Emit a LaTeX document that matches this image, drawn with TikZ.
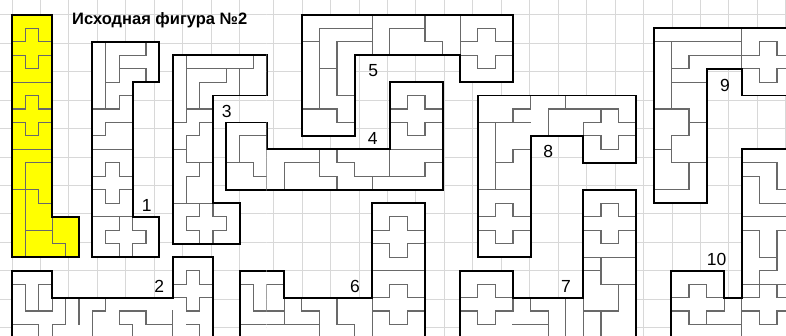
\documentclass[tikz,border=0pt]{standalone}
\usepackage{fontspec}
\setmainfont{Liberation Sans}
\definecolor{gridc}{RGB}{216,216,216}
\definecolor{piecec}{RGB}{105,105,105}
\definecolor{yel}{RGB}{255,255,0}
\newcommand\figfills{%
  \fill[yel] (0,0)--(3,0)--(3,15)--(5,15)--(5,18)--(0,18)--cycle;
  \fill[white] (6,2)--(11,2)--(11,5)--(9,5)--(9,15)--(11,15)--(11,18)--(6,18)--cycle;
  \fill[white] (0,26)--(0,19)--(3,19)--(3,21)--(12,21)--(12,18)--(15,18)--(15,26)--cycle;
  \fill[white] (12,3)--(19,3)--(19,6)--(15,6)--(15,14)--(17,14)--(17,17)--(12,17)--cycle;
  \fill[white] (16,8)--(19,8)--(19,10)--(26,10)--(26,5)--(29,5)--(29,13)--(16,13)--cycle;
  \fill[white] (21,0)--(33,0)--(33,5)--(30,5)--(30,3)--(24,3)--(24,9)--(21,9)--cycle;
  \fill[white] (17,26)--(17,19)--(20,19)--(20,21)--(25,21)--(25,14)--(28,14)--(28,26)--cycle;
  \fill[white] (30,26)--(30,19)--(33,19)--(33,21)--(37,21)--(37,13)--(40,13)--(40,26)--cycle;
  \fill[white] (31,6)--(40,6)--(40,11)--(37,11)--(37,9)--(34,9)--(34,18)--(31,18)--cycle;
  \fill[white] (49,1)--(41,1)--(41,14)--(44,14)--(44,4)--(46,4)--(46,6)--(49,6)--cycle;
  \fill[white] (42,26)--(42,19)--(45,19)--(45,21)--(46,21)--(46,10)--(50,10)--(50,26)--cycle;
}
\newcommand\figpieces{%
  % original (yellow)
  \draw[piece] (0,2)--(1,2)--(1,1)--(2,1)--(2,2)--(3,2);
  \draw[piece] (0,3)--(1,3)--(1,4)--(2,4)--(2,3)--(3,3);
  \draw[piece] (0,5)--(3,5);
  \draw[piece] (0,7)--(1,7)--(1,6)--(2,6)--(2,7)--(3,7);
  \draw[piece] (0,8)--(1,8)--(1,9)--(2,9)--(2,8)--(3,8);
  \draw[piece] (0,10)--(3,10);
  \draw[piece] (3,11)--(1,11)--(1,18);
  \draw[piece] (0,13)--(1,13)--(2,13)--(2,14)--(3,14);
  \draw[piece] (1,16)--(3,16);
  \draw[piece] (3,15)--(3,17)--(4,17)--(4,18);
  % figure 1
  \draw[piece] (7,2)--(7,7)--(6,7);
  \draw[piece] (10,2)--(10,3)--(8,3)--(8,5)--(7,5);
  \draw[piece] (8,4)--(10,4)--(10,5);
  \draw[piece] (9,6)--(8,6)--(8,7)--(7,7);
  \draw[piece] (9,8)--(7,8)--(7,9)--(6,9);
  \draw[piece] (6,10)--(9,10);
  \draw[piece] (6,12)--(7,12)--(7,11)--(8,11)--(8,12)--(9,12);
  \draw[piece] (6,13)--(7,13)--(7,14)--(8,14)--(8,13)--(9,13);
  \draw[piece] (6,15)--(9,15);
  \draw[piece] (8,15)--(8,16)--(7,16)--(7,17)--(8,17)--(8,18);
  \draw[piece] (9,15)--(9,16)--(10,16)--(10,17)--(9,17)--(9,18);
  % figure 2
  \draw[piece] (0,20)--(1,20)--(1,22)--(2,22)--(2,20)--(3,20);
  \draw[piece] (2,22)--(3,22)--(3,21);
  \draw[piece] (0,23)--(2,23)--(2,24);
  \draw[piece] (4,21)--(4,23)--(3,23)--(3,24);
  \draw[piece] (5,21)--(5,23);
  \draw[piece] (6,22)--(7,22)--(7,21);
  \draw[piece] (6,22)--(6,24);
  \draw[piece] (8,22)--(8,23)--(9,23)--(9,24);
  \draw[piece] (8,22)--(10,22)--(10,23)--(12,23);
  \draw[piece] (12,20)--(13,20)--(13,19)--(14,19)--(14,20)--(15,20);
  \draw[piece] (12,21)--(13,21)--(13,22)--(14,22)--(14,21)--(15,21);
  \draw[piece] (12,22)--(12,24);
  \draw[piece] (13,23)--(14,23)--(14,24);
  % figure 3
  \draw[piece] (13,3)--(13,8)--(12,8);
  \draw[piece] (13,4)--(18,4);
  \draw[piece] (18,3)--(18,4);
  \draw[piece] (17,4)--(17,6);
  \draw[piece] (16,4)--(16,5)--(14,5)--(14,7);
  \draw[piece] (13,7)--(15,7);
  \draw[piece] (15,8)--(14,8)--(14,9)--(13,9)--(13,10)--(12,10);
  \draw[piece] (13,10)--(13,11)--(15,11);
  \draw[piece] (14,11)--(14,12)--(13,12)--(13,14);
  \draw[piece] (12,14)--(15,14);
  \draw[piece] (14,14)--(14,15)--(13,15)--(13,16)--(14,16)--(14,17);
  \draw[piece] (15,14)--(15,15)--(16,15)--(16,16)--(15,16)--(15,17);
  % figure 4
  \draw[piece] (19,9)--(17,9)--(17,11)--(16,11);
  \draw[piece] (17,11)--(18,11)--(18,12)--(19,12);
  \draw[piece] (19,10)--(19,13);
  \draw[piece] (20,13)--(20,11)--(22,11);
  \draw[piece] (22,10)--(22,12)--(23,12)--(23,13);
  \draw[piece] (23,10)--(23,11)--(24,11)--(24,12)--(25,12)--(25,13);
  \draw[piece] (25,12)--(28,12)--(28,11)--(29,11);
  \draw[piece] (26,10)--(26,12);
  \draw[piece] (26,10)--(29,10);
  \draw[piece] (26,7)--(27,7)--(27,6)--(28,6)--(28,7)--(29,7);
  \draw[piece] (26,8)--(27,8)--(27,9)--(28,9)--(28,8)--(29,8);
  % figure 5
  \draw[piece] (22,1)--(25,1);
  \draw[piece] (25,0)--(25,3);
  \draw[piece] (22,1)--(22,2)--(21,2);
  \draw[piece] (22,2)--(22,7)--(21,7);
  \draw[piece] (23,2)--(25,2);
  \draw[piece] (23,2)--(23,6)--(24,6);
  \draw[piece] (22,4)--(23,4);
  \draw[piece] (22,7)--(23,7)--(23,8)--(24,8);
  \draw[piece] (26,1)--(28,1)--(28,0);
  \draw[piece] (26,1)--(26,3);
  \draw[piece] (28,1)--(28,2)--(29,2)--(29,3);
  \draw[piece] (30,0)--(30,3);
  \draw[piece] (30,2)--(31,2)--(31,1)--(32,1)--(32,2)--(33,2);
  \draw[piece] (30,3)--(31,3)--(31,4)--(32,4)--(32,3)--(33,3);
  % figure 6
  \draw[piece] (17,20)--(18,20)--(18,22)--(19,22)--(19,20)--(20,20);
  \draw[piece] (19,22)--(20,22);
  \draw[piece] (20,21)--(20,23);
  \draw[piece] (17,23)--(22,23);
  \draw[piece] (21,21)--(21,22)--(22,22)--(22,24);
  \draw[piece] (23,21)--(23,23)--(24,23)--(24,24);
  \draw[piece] (25,16)--(26,16)--(26,15)--(27,15)--(27,16)--(28,16);
  \draw[piece] (25,17)--(26,17)--(26,18)--(27,18)--(27,17)--(28,17);
  \draw[piece] (25,19)--(28,19);
  \draw[piece] (25,21)--(26,21)--(26,20)--(27,20)--(27,21)--(28,21);
  \draw[piece] (25,22)--(26,22)--(26,23)--(27,23)--(27,22)--(28,22);
  \draw[piece] (25,21)--(25,24);
  % figure 7
  \draw[piece] (30,21)--(31,21)--(31,20)--(32,20)--(32,21)--(33,21)--(33,22)--(32,22)--(32,23)--(31,23)--(31,22)--(30,22);
  \draw[piece] (34,21)--(34,22)--(35,22)--(35,24);
  \draw[piece] (36,21)--(36,24);
  \draw[piece] (33,23)--(35,23);
  \draw[piece] (37,15)--(38,15)--(38,14)--(39,14)--(39,15)--(40,15);
  \draw[piece] (37,16)--(38,16)--(38,17)--(39,17)--(39,16)--(40,16);
  \draw[piece] (37,18)--(40,18);
  \draw[piece] (37,19)--(38,19);
  \draw[piece] (38,18)--(38,20)--(39,20)--(39,22);
  \draw[piece] (39,20)--(40,20);
  \draw[piece] (37,22)--(39,22);
  \draw[piece] (38,22)--(38,24);
  \draw[piece] (37,21)--(37,24);
  % figure 8
  \draw[piece] (34,6)--(34,7)--(33,7)--(33,8);
  \draw[piece] (31,8)--(34,8);
  \draw[piece] (36,6)--(36,7)--(35,7)--(35,9);
  \draw[piece] (36,7)--(39,7);
  \draw[piece] (39,7)--(39,8)--(40,8);
  \draw[piece] (38,7)--(38,8)--(37,8)--(37,9)--(38,9)--(38,10)--(39,10)--(39,9)--(40,9);
  \draw[piece] (32,8)--(32,13);
  \draw[piece] (33,10)--(34,10);
  \draw[piece] (33,10)--(33,11)--(32,11);
  \draw[piece] (31,13)--(34,13);
  \draw[piece] (31,15)--(32,15)--(32,14)--(33,14)--(33,15)--(34,15);
  \draw[piece] (31,16)--(32,16)--(32,17)--(33,17)--(33,16)--(34,16);
  % figure 9
  \draw[piece] (41,2)--(46,2);
  \draw[piece] (46,1)--(46,4);
  \draw[piece] (42,2)--(42,7)--(41,7);
  \draw[piece] (43,3)--(46,3);
  \draw[piece] (43,3)--(43,4)--(42,4);
  \draw[piece] (42,5)--(44,5);
  \draw[piece] (42,7)--(43,7)--(43,9)--(42,9)--(42,11)--(43,11)--(43,13);
  \draw[piece] (43,8)--(44,8);
  \draw[piece] (41,10)--(42,10);
  \draw[piece] (43,11)--(44,11);
  \draw[piece] (41,13)--(43,13);
  \draw[piece] (46,3)--(47,3)--(47,2)--(48,2)--(48,3)--(49,3);
  \draw[piece] (46,4)--(47,4)--(47,5)--(48,5)--(48,4)--(49,4);
  % figure 10
  \draw[piece] (42,21)--(43,21)--(43,20)--(44,20)--(44,21)--(45,21)--(45,22)--(44,22)--(44,23)--(43,23)--(43,22)--(42,22);
  \draw[piece] (44,23)--(46,23);
  \draw[piece] (46,21)--(46,24);
  \draw[piece] (46,11)--(48,11);
  \draw[piece] (48,11)--(48,13)--(49,13);
  \draw[piece] (46,12)--(47,12)--(47,14)--(49,14);
  \draw[piece] (46,15)--(49,15);
  \draw[piece] (46,16)--(47,16)--(47,18)--(48,18)--(48,16)--(49,16);
  \draw[piece] (48,18)--(48,19)--(47,19)--(47,20)--(46,20);
  \draw[piece] (47,20)--(49,20);
  \draw[piece] (46,21)--(47,21)--(47,20);
  \draw[piece] (48,20)--(48,21)--(49,21);
  \draw[piece] (46,22)--(47,22)--(47,23)--(48,23)--(48,22)--(49,22);
}
\newcommand\figoutlines{%
  \draw[outl] (0,0)--(3,0)--(3,15)--(5,15)--(5,18)--(0,18)--cycle;
  \draw[outl] (6,2)--(11,2)--(11,5)--(9,5)--(9,15)--(11,15)--(11,18)--(6,18)--cycle;
  \draw[outl] (0,26)--(0,19)--(3,19)--(3,21)--(12,21)--(12,18)--(15,18)--(15,26);
  \draw[outl] (12,3)--(19,3)--(19,6)--(15,6)--(15,14)--(17,14)--(17,17)--(12,17)--cycle;
  \draw[outl] (16,8)--(19,8)--(19,10)--(26,10)--(26,5)--(29,5)--(29,13)--(16,13)--cycle;
  \draw[outl] (21,0)--(33,0)--(33,5)--(30,5)--(30,3)--(24,3)--(24,9)--(21,9)--cycle;
  \draw[outl] (17,26)--(17,19)--(20,19)--(20,21)--(25,21)--(25,14)--(28,14)--(28,26);
  \draw[outl] (30,26)--(30,19)--(33,19)--(33,21)--(37,21)--(37,13)--(40,13)--(40,26);
  \draw[outl] (31,6)--(40,6)--(40,11)--(37,11)--(37,9)--(34,9)--(34,18)--(31,18)--cycle;
  \draw[outl] (49,1)--(41,1)--(41,14)--(44,14)--(44,4)--(46,4)--(46,6)--(49,6)--cycle;
  \draw[outl] (42,26)--(42,19)--(45,19)--(45,21)--(46,21)--(46,10)--(50,10);
}
\newcommand\mydrawing{%
  \draw[gridl] (-2,-2) grid (51,26);
  \figfills
  \figpieces
  \figoutlines
}
\begin{document}
\begin{tikzpicture}[
  gridl/.style={draw=gridc, line width=0.9pt},
  outl/.style={draw=black, line width=1.9pt, line join=miter},
  piece/.style={draw=piecec, line width=1.1pt, line cap=rect},
  lbl/.style={font=\fontsize{17.5}{17.5}\selectfont, inner sep=0pt, anchor=center},
]
\useasboundingbox (-12pt,14.7pt) rectangle (774pt,-320.3pt);
\fill[white] (-12pt,14.7pt) rectangle (774pt,-320.3pt);
\begin{scope}[x=13.4pt, y=-13.47pt]
  \clip (-0.9,-1.0913) rectangle (19,23.78);
  \mydrawing
\end{scope}
\begin{scope}[xshift=-79.8pt, x=17.6pt, y=-13.47pt]
  \clip (19,-1.0913) rectangle (48.6,23.78);
  \mydrawing
\end{scope}
\node[font=\bfseries\fontsize{16.5}{16.5}\selectfont, anchor=base west, inner sep=0pt] (title) at (60pt,-9.3pt) {Исходная фигура №2};
\node[lbl] (l1) at (134.7pt,-190.3pt) {1};
\node[lbl] (l2) at (147.3pt,-272pt) {2};
\node[lbl] (l3) at (214.7pt,-97pt) {3};
\node[lbl] (l4) at (360.7pt,-123.6pt) {4};
\node[lbl] (l5) at (361.3pt,-56pt) {5};
\node[lbl] (l6) at (343pt,-271.3pt) {6};
\node[lbl] (l7) at (554pt,-271.3pt) {7};
\node[lbl] (l8) at (536.3pt,-137pt) {8};
\node[lbl] (l9) at (713pt,-70.3pt) {9};
\node[lbl] (l10) at (704.7pt,-244.6pt) {10};
\end{tikzpicture}
\end{document}
